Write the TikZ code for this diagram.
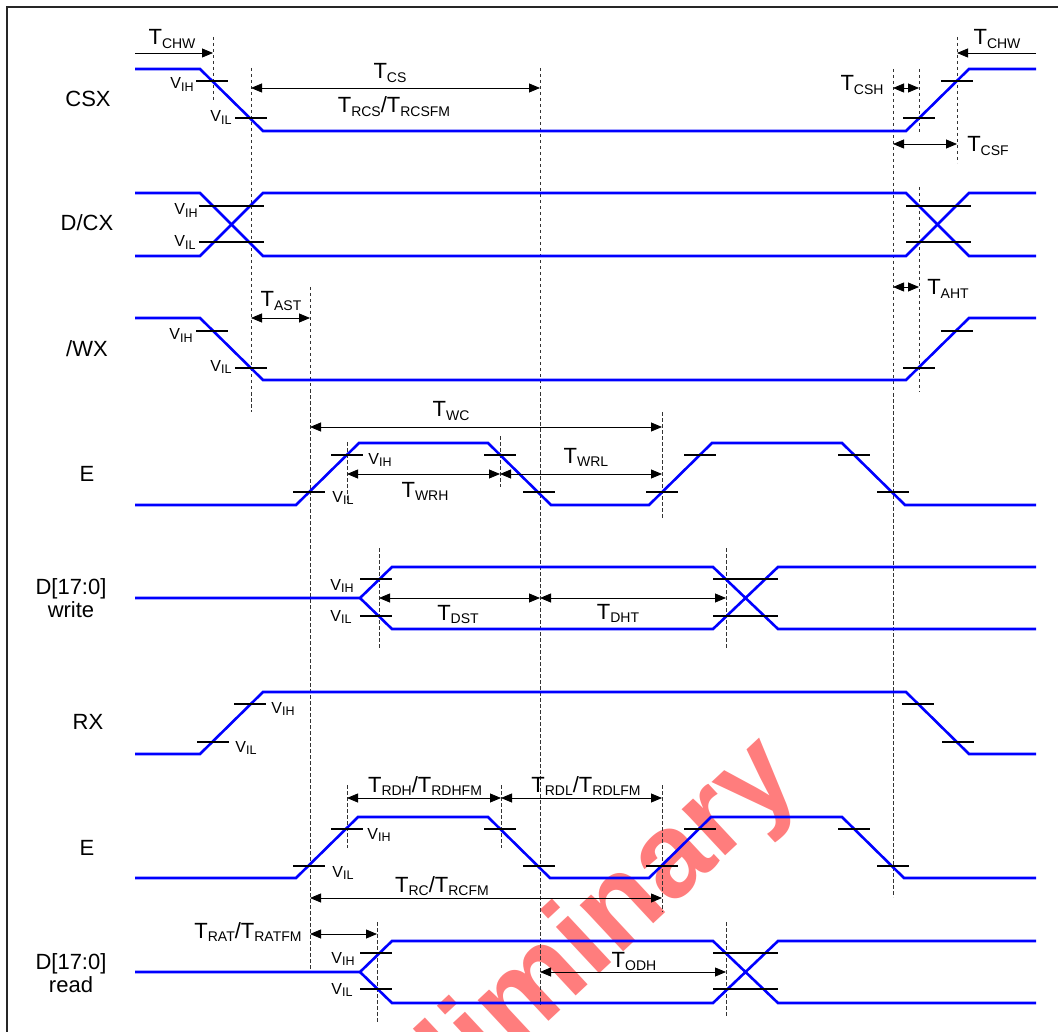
\documentclass[tikz,border=0pt]{standalone}
\usepackage{fontspec}
\setmainfont{Liberation Sans}
\usetikzlibrary{arrows.meta}
\definecolor{sigblue}{RGB}{0,0,255}
\definecolor{wmred}{RGB}{255,125,125}
\newcommand{\Tl}[1]{{\fontsize{22}{22}\selectfont T}\raisebox{-3.5pt}{\fontsize{14}{14}\selectfont #1}}
\newcommand{\Vl}[1]{{\fontsize{16}{16}\selectfont V}\raisebox{-2.5pt}{\fontsize{12.5}{12.5}\selectfont #1}}
\newcommand{\Sl}{{\fontsize{22}{22}\selectfont /}}
\newcommand{\htick}[2]{\draw[tk] ({#1-16},#2) -- ({#1+16},#2);}
\begin{document}
\begin{tikzpicture}[x=1pt,y=-1pt,
  sig/.style={draw=sigblue, line width=2.6pt},
  tk/.style={draw=black, line width=1.2pt},
  gd/.style={draw=black!80, line width=0.7pt, dash pattern=on 3.5pt off 2.5pt},
  dm/.style={draw=black, line width=0.8pt, {Triangle[length=11pt,width=9pt]}-{Triangle[length=11pt,width=9pt]}},
  dmr/.style={draw=black, line width=0.8pt, -{Triangle[length=11pt,width=9pt]}},
  lab/.style={inner sep=0pt, anchor=base},
  sl/.style={inner sep=0pt, anchor=base, font=\fontsize{22}{23}\selectfont, align=center}]
\useasboundingbox (0,0) rectangle (1058,1032);
% watermark
\begin{scope}
\clip (0,0) rectangle (1058,1032);
\node[rotate=43, anchor=base east, text=wmred, inner sep=0pt, font=\fontsize{120}{120}\selectfont\bfseries] (wm) at (803,784) {Preliminary};
\end{scope}
% frame
\draw[line width=1.6pt, black!85] (7,1032) -- (7,7) -- (1058,7);
% signal names
\node[sl] (nCSX) at (88,107) {CSX};
\node[sl] (nDCX) at (87,231) {D/CX};
\node[sl] (nWX) at (87,356) {/WX};
\node[sl] (nE1) at (87,481) {E};
\node[sl, anchor=center] (nDW) at (71,598) {D[17:0]\\write};
\node[sl] (nRX) at (88,729) {RX};
\node[sl] (nE2) at (87,855) {E};
\node[sl, anchor=center] (nDR) at (71,973) {D[17:0]\\read};
% guide lines
\draw[gd] (213,37) -- (213,100);
\draw[gd] (251,68) -- (251,412);
\draw[gd] (310,287) -- (310,972);
\draw[gd] (540,68) -- (540,1005);
\draw[gd] (893,69) -- (893,897);
\draw[gd] (919,69) -- (919,132);
\draw[gd] (919,187) -- (919,392);
\draw[gd] (957,37) -- (957,163);
\draw[gd] (347,442) -- (347,503);
\draw[gd] (500,436) -- (500,487);
\draw[gd] (662,412) -- (662,518);
\draw[gd] (379,548) -- (379,648);
\draw[gd] (726,548) -- (726,648);
\draw[gd] (347,785) -- (347,848);
\draw[gd] (501,785) -- (501,848);
\draw[gd] (662,785) -- (662,912);
\draw[gd] (377,922) -- (377,1022);
\draw[gd] (726,922) -- (726,1017);
% CSX
\draw[sig] (135,69) -- (200,69) -- (263,131) -- (906,131) -- (969,69) -- (1036,69);
\htick{212}{81} \htick{251}{118} \htick{919}{118} \htick{957}{81}
% D/CX
\draw[sig] (135,193) -- (200,193) -- (263,256) -- (906,256) -- (969,193) -- (1036,193);
\draw[sig] (135,256) -- (200,256) -- (263,193) -- (906,193) -- (969,256) -- (1036,256);
\draw[tk] (199,206) -- (264,206); \draw[tk] (199,242) -- (264,242);
\draw[tk] (906,206) -- (971,206); \draw[tk] (906,242) -- (971,242);
% /WX
\draw[sig] (135,318) -- (200,318) -- (263,380) -- (906,380) -- (969,318) -- (1036,318);
\htick{212}{331} \htick{251}{368} \htick{919}{368} \htick{957}{331}
% E write
\draw[sig] (135,505) -- (296,505) -- (359,443) -- (488,443) -- (551,505) -- (649,505) -- (712,443) -- (842,443) -- (905,505) -- (1036,505);
\htick{309}{492} \htick{347}{455} \htick{500}{455} \htick{539}{492}
\htick{662}{492} \htick{700}{455} \htick{854}{455} \htick{893}{492}
% D write
\draw[sig] (135,598) -- (360,598) -- (392,567) -- (713,567) -- (778,629) -- (1036,629);
\draw[sig] (360,598) -- (392,629) -- (713,629) -- (778,567) -- (1036,567);
\draw[tk] (360,579) -- (392,579); \draw[tk] (360,616) -- (392,616);
\draw[tk] (713,579) -- (778,579); \draw[tk] (713,616) -- (778,616);
% RX
\draw[sig] (135,754) -- (200,754) -- (263,692) -- (906,692) -- (969,754) -- (1036,754);
\htick{213}{742} \htick{250}{704} \htick{918}{704} \htick{958}{742}
% E read
\draw[sig] (135,878) -- (296,878) -- (358,817) -- (488,817) -- (550,878) -- (649,878) -- (711,817) -- (842,817) -- (904,878) -- (1036,878);
\htick{309}{866} \htick{347}{829} \htick{500}{829} \htick{539}{866}
\htick{662}{866} \htick{700}{829} \htick{854}{829} \htick{893}{866}
% D read
\draw[sig] (135,972) -- (360,972) -- (392,941) -- (713,941) -- (778,1003) -- (1036,1003);
\draw[sig] (360,972) -- (392,1003) -- (713,1003) -- (778,941) -- (1036,941);
\draw[tk] (360,953) -- (392,953); \draw[tk] (360,989) -- (392,989);
\draw[tk] (713,953) -- (778,953); \draw[tk] (713,989) -- (778,989);
% dimension arrows
\draw[dmr] (135,53) -- (213,53);
\draw[dmr] (1036,53) -- (957,53);
\draw[dm] (251,88) -- (540,88);
\draw[dm] (893,88) -- (919,88);
\draw[dm] (893,144) -- (957,144);
\draw[dm] (251,318) -- (310,318);
\draw[dm] (893,287) -- (919,287);
\draw[dm] (310,427) -- (662,427);
\draw[dm] (347,474) -- (500,474);
\draw[dm] (500,474) -- (662,474);
\draw[dm] (379,598) -- (540,598);
\draw[dm] (540,598) -- (726,598);
\draw[dm] (347,798) -- (501,798);
\draw[dm] (501,798) -- (662,798);
\draw[dm] (310,898) -- (662,898);
\draw[dm] (310,934) -- (377,934);
\draw[dm] (540,972) -- (726,972);
% timing labels
\node[lab] (tchw1) at (172,45) {\Tl{CHW}};
\node[lab] (tchw2) at (997,45) {\Tl{CHW}};
\node[lab] (tcs) at (390,79) {\Tl{CS}};
\node[lab] (trcs) at (394,113) {\Tl{RCS}\Sl\Tl{RCSFM}};
\node[lab] (tcsh) at (862,91) {\Tl{CSH}};
\node[lab] (tcsf) at (988,152) {\Tl{CSF}};
\node[lab] (tast) at (281,307) {\Tl{AST}};
\node[lab] (taht) at (948,295) {\Tl{AHT}};
\node[lab] (twc) at (451,417) {\Tl{WC}};
\node[lab] (twrh) at (425,497) {\Tl{WRH}};
\node[lab] (twrl) at (586,463) {\Tl{WRL}};
\node[lab] (tdst) at (458,620) {\Tl{DST}};
\node[lab] (tdht) at (618,619) {\Tl{DHT}};
\node[lab] (trdh) at (425,792) {\Tl{RDH}\Sl\Tl{RDHFM}};
\node[lab] (trdl) at (586,792) {\Tl{RDL}\Sl\Tl{RDLFM}};
\node[lab] (trc) at (442,892) {\Tl{RC}\Sl\Tl{RCFM}};
\node[lab] (trat) at (248,938) {\Tl{RAT}\Sl\Tl{RATFM}};
\node[lab] (todh) at (634,967) {\Tl{ODH}};
% voltage labels
\node[lab] (v1) at (182,89) {\Vl{IH}};
\node[lab] (v2) at (221,122) {\Vl{IL}};
\node[lab] (v3) at (186,215) {\Vl{IH}};
\node[lab] (v4) at (185,247) {\Vl{IL}};
\node[lab] (v5) at (181,340) {\Vl{IH}};
\node[lab] (v6) at (221,371) {\Vl{IL}};
\node[lab] (v7) at (380,464) {\Vl{IH}};
\node[lab] (v8) at (343,502) {\Vl{IL}};
\node[lab] (v9) at (342,590) {\Vl{IH}};
\node[lab] (v10) at (341,621) {\Vl{IL}};
\node[lab] (v11) at (283,713) {\Vl{IH}};
\node[lab] (v12) at (246,752) {\Vl{IL}};
\node[lab] (v13) at (379,839) {\Vl{IH}};
\node[lab] (v14) at (343,877) {\Vl{IL}};
\node[lab] (v15) at (343,963) {\Vl{IH}};
\node[lab] (v16) at (342,994) {\Vl{IL}};
\end{tikzpicture}
\end{document}
